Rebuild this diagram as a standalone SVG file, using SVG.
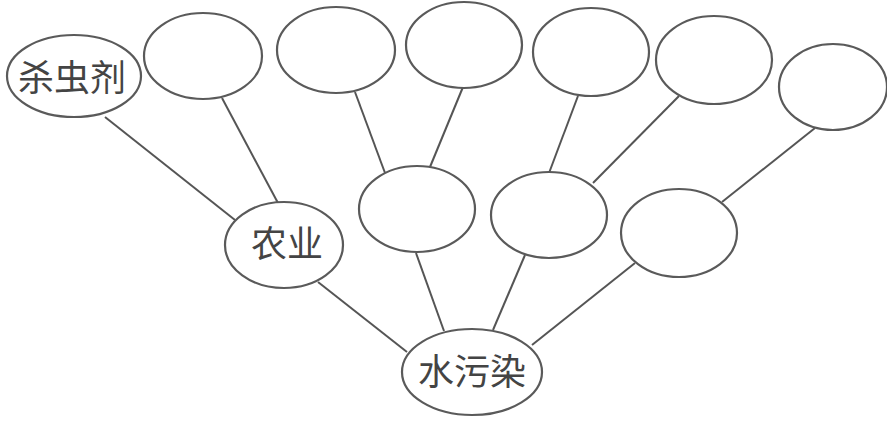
<svg xmlns="http://www.w3.org/2000/svg" width="887" height="423" viewBox="0 0 887 423">
<style>
.n{fill:#fff;stroke:#5a5a5a;stroke-width:2.2}
.c line{stroke:#555;stroke-width:2}
text{font-family:"Noto Sans CJK SC","Liberation Sans",sans-serif;font-size:36px;fill:#444;text-anchor:middle;dominant-baseline:central}
</style>
<rect width="887" height="423" fill="#fff"/>
<g id="connectors" class="c">
<line x1="105" y1="117" x2="235" y2="220"/>
<line x1="222" y1="98" x2="278" y2="203"/>
<line x1="355" y1="92" x2="385" y2="173"/>
<line x1="463" y1="87" x2="430" y2="167"/>
<line x1="578" y1="96" x2="549" y2="173"/>
<line x1="679" y1="96" x2="593" y2="183"/>
<line x1="815" y1="128" x2="722" y2="202"/>
<line x1="318" y1="282" x2="407" y2="352"/>
<line x1="416" y1="253" x2="444" y2="331"/>
<line x1="525" y1="255" x2="493" y2="330"/>
<line x1="635" y1="263" x2="532" y2="345"/>
</g>
<g id="n-shachongji"><ellipse class="n" cx="74" cy="76" rx="67" ry="41"/><text x="72" y="75">杀虫剂</text></g>
<g id="n-top2"><ellipse class="n" cx="203" cy="56" rx="59" ry="43"/></g>
<g id="n-top3"><ellipse class="n" cx="336" cy="50" rx="59" ry="43"/></g>
<g id="n-top4"><ellipse class="n" cx="464" cy="45" rx="58" ry="43"/></g>
<g id="n-top5"><ellipse class="n" cx="591" cy="52" rx="58" ry="44"/></g>
<g id="n-top6"><ellipse class="n" cx="714" cy="60" rx="58" ry="44"/></g>
<g id="n-top7"><ellipse class="n" cx="833" cy="87" rx="54" ry="43"/></g>
<g id="n-nongye"><ellipse class="n" cx="284" cy="245" rx="59" ry="43"/><text x="287" y="241">农业</text></g>
<g id="n-mid2"><ellipse class="n" cx="417" cy="209" rx="58" ry="43"/></g>
<g id="n-mid3"><ellipse class="n" cx="549" cy="215" rx="58" ry="43"/></g>
<g id="n-mid4"><ellipse class="n" cx="679" cy="233" rx="58" ry="44"/></g>
<g id="n-shuiwuran"><ellipse class="n" cx="472" cy="372" rx="70" ry="43"/><text x="472" y="369">水污染</text></g>
</svg>
